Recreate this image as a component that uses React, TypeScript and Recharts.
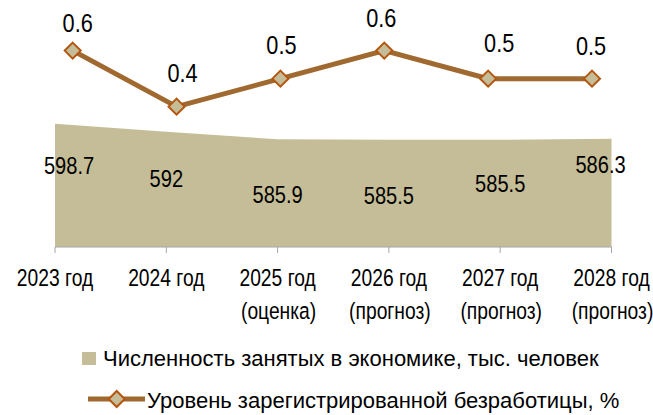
import { ComposedChart, Area, Line, XAxis, YAxis, LabelList, Legend } from 'recharts';

const years = ['2023 год', '2024 год', '2025 год', '2026 год', '2027 год', '2028 год'];
const notes = ['', '', '(оценка)', '(прогноз)', '(прогноз)', '(прогноз)'];
const employed = [598.7, 592, 585.9, 585.5, 585.5, 586.3];
const unemployment = [0.6, 0.4, 0.5, 0.6, 0.5, 0.5];

const employedName = 'Численность занятых в экономике, тыс. человек';
const unemploymentName = 'Уровень зарегистрированной безработицы, %';

// label nudges (Excel placed these by hand)
const areaLabelDx = [14, 0, 0, 0, 0, -11];
const areaLabelDy = [50, 55, 64, 64, 52, 34];
const lineLabelDx = [5, 6, 1, -3, 11, -1];
const lineLabelDy = [-19, -25, -25, -24, -27, -24];

// no Arial Narrow here, so squeeze Liberation Sans (Arial metrics) sideways
const FONT = "'Liberation Sans', Arial, sans-serif";
const NARROW = 0.82;
const AREA_FILL = '#c4bd97';
const LINE_COLOR = '#a0692f';
const MARKER_STROKE = '#b4560f';

const data = years.map((y, i) => ({
  cat: y,
  note: notes[i],
  employed: employed[i],
  unemployment: unemployment[i],
}));

function NText({ x, y, children, size = 23.5 }: { x: number; y: number; children: any; size?: number }) {
  return (
    <text
      transform={`translate(${x},${y}) scale(${NARROW},1)`}
      textAnchor="middle"
      fontFamily={FONT}
      fontSize={size}
      fill="#000"
    >
      {children}
    </text>
  );
}

function Diamond({ cx, cy, r = 8 }: { cx: number; cy: number; r?: number }) {
  return (
    <polygon
      points={`${cx},${cy - r} ${cx + r},${cy} ${cx},${cy + r} ${cx - r},${cy}`}
      fill={AREA_FILL}
      stroke={MARKER_STROKE}
      strokeWidth={2}
    />
  );
}

function YearTick(props: any) {
  const { x, y, payload, index } = props;
  const note = notes[index];
  return (
    <g>
      <NText x={x} y={y + 31}>{payload.value}</NText>
      {note && <NText x={x + 1} y={y + 64}>{note}</NText>}
    </g>
  );
}

const legendText = {
  position: 'absolute' as const,
  lineHeight: '26px',
  whiteSpace: 'nowrap' as const,
};

function LegendBox() {
  return (
    <div style={{ position: 'relative', width: 653, height: 100, fontFamily: FONT, fontSize: 22, color: '#000' }}>
      <div style={{ position: 'absolute', left: 82, top: 37, width: 14, height: 13, background: AREA_FILL }} />
      <div style={{ ...legendText, left: 103, top: 31 }}>{employedName}</div>
      <svg style={{ position: 'absolute', left: 80, top: 70 }} width={70} height={30}>
        <line x1={8} y1={14} x2={65} y2={14} stroke={LINE_COLOR} strokeWidth={5} />
        <Diamond cx={36.7} cy={14} r={8} />
      </svg>
      <div style={{ ...legendText, left: 147, top: 73 }}>{unemploymentName}</div>
    </div>
  );
}

export default function App() {
  return (
    <div style={{ position: 'absolute', left: 0, top: 0, background: '#fff' }}>
      <ComposedChart width={653} height={415} data={data} margin={{ top: 3, right: 41.5, bottom: 0, left: 55 }}>
        <XAxis
          xAxisId="area"
          dataKey="cat"
          interval={0}
          padding={{ left: 0, right: 0 }}
          height={68}
          tickSize={6}
          stroke="#a6a6a6"
          tick={<YearTick />}
        />
        <XAxis xAxisId="line" dataKey="cat" hide padding={{ left: 17.7, right: 19.5 }} />
        <YAxis yAxisId="area" hide domain={[497.5, 697.7]} allowDataOverflow />
        <YAxis yAxisId="line" hide domain={[-0.101, 0.77]} allowDataOverflow />
        <Legend verticalAlign="bottom" wrapperStyle={{ left: 0, bottom: 0, width: 653, height: 100 }} content={() => <LegendBox />} />
        <Area
          xAxisId="area"
          yAxisId="area"
          type="linear"
          dataKey="employed"
          name={employedName}
          fill={AREA_FILL}
          fillOpacity={1}
          stroke="none"
          isAnimationActive={false}
        >
          <LabelList
            dataKey="employed"
            content={(p: any) => (
              <NText x={p.x + areaLabelDx[p.index]} y={p.y + areaLabelDy[p.index]} size={24.5}>
                {p.value}
              </NText>
            )}
          />
        </Area>
        <Line
          xAxisId="line"
          yAxisId="line"
          type="linear"
          dataKey="unemployment"
          name={unemploymentName}
          stroke={LINE_COLOR}
          strokeWidth={5}
          dot={(p: any) => <Diamond key={p.index} cx={p.cx} cy={p.cy} />}
          activeDot={false}
          isAnimationActive={false}
        >
          <LabelList
            dataKey="unemployment"
            content={(p: any) => (
              <NText x={p.x + lineLabelDx[p.index]} y={p.y + lineLabelDy[p.index]} size={26.5}>
                {p.value.toFixed(1)}
              </NText>
            )}
          />
        </Line>
      </ComposedChart>
    </div>
  );
}
